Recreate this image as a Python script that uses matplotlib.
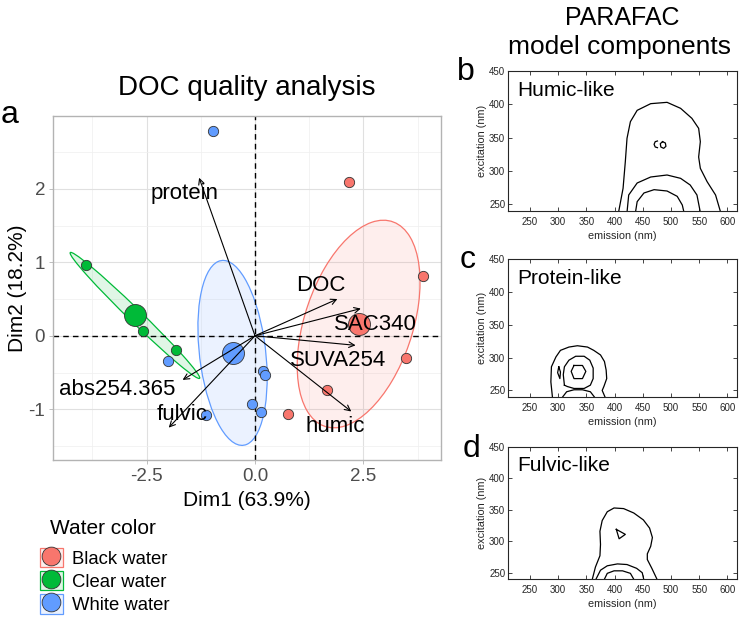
import numpy as np
import matplotlib
matplotlib.use('Agg')
import matplotlib.pyplot as plt
from matplotlib.patches import Ellipse, Patch
from matplotlib.lines import Line2D
from matplotlib.legend_handler import HandlerTuple
from matplotlib.colors import to_rgba

plt.rcParams['font.family'] = ['Liberation Sans', 'DejaVu Sans']
plt.rcParams['axes.unicode_minus'] = False

# ---- PCA individuals (Dim1, Dim2), one array pair per water colour
groups = ['Black water', 'Clear water', 'White water']
group_colors = ['#F8766D', '#00BA38', '#619CFF']
black_x = [2.17, 3.88, 3.49, 1.66, 0.75]
black_y = [2.09, 0.81, -0.30, -0.74, -1.06]
clear_x = [-3.91, -2.58, -1.82]
clear_y = [0.96, 0.07, -0.20]
white_x = [-0.97, -2.00, 0.19, 0.23, -0.08, 0.14, -1.14]
white_y = [2.78, -0.34, -0.48, -0.54, -0.93, -1.04, -1.08]

# ---- PCA variables (arrow tips) and where their labels sit
var_names = ['protein', 'DOC', 'SAC340', 'SUVA254', 'humic', 'abs254.365', 'fulvic']
var_x = [-1.29, 1.90, 2.44, 2.32, 2.22, -1.67, -1.99]
var_y = [2.15, 0.50, 0.37, -0.13, -1.03, -0.60, -1.25]
lab_x = [-1.63, 1.52, 2.77, 1.92, 1.85, -3.19, -1.69]
lab_y = [1.93, 0.68, 0.16, -0.33, -1.23, -0.73, -1.07]

# ---- PARAFAC contour lines (emission nm, excitation nm)
humic_outer_em = [407, 415, 419, 422, 428, 440, 464, 493, 517, 537, 549, 552, 549, 552, 564, 579, 588]
humic_outer_ex = [238, 274, 314, 349, 374, 391, 401, 403, 394, 379, 364, 344, 321, 304, 284, 264, 238]
humic_mid_em = [422, 425, 440, 464, 493, 517, 534, 546, 552]
humic_mid_ex = [238, 264, 282, 291, 294, 289, 279, 264, 238]
humic_inner_em = [437, 440, 452, 470, 493, 511, 520, 523]
humic_inner_ex = [238, 254, 267, 272, 270, 262, 249, 238]
humic_peak1_em = [476, 472, 470, 472, 476]
humic_peak1_ex = [345, 344, 340, 336, 335]
humic_peak2_em = [485, 481, 482, 487, 491, 490, 485]
humic_peak2_ex = [344, 341, 336, 334, 337, 342, 344]

protein_outer_em = [290, 287, 288, 296, 304, 319, 334, 352, 363, 375, 382, 385, 386, 381, 378, 384]
protein_outer_ex = [238, 263, 286, 301, 311, 316, 318, 316, 311, 304, 294, 281, 268, 256, 250, 238]
protein_mid_em = [311, 309, 311, 319, 331, 346, 356, 362, 362, 357, 346, 328, 316, 311]
protein_mid_ex = [258, 274, 286, 296, 302, 302, 296, 284, 268, 258, 253, 253, 256, 258]
protein_inner_em = [328, 343, 349, 343, 328, 323, 328]
protein_inner_ex = [288, 288, 279, 268, 268, 279, 288]
protein_side_em = [301, 304, 303, 299, 301]
protein_side_ex = [286, 278, 268, 277, 286]
protein_low_em = [306, 315, 328, 343, 357, 366]
protein_low_ex = [238, 248, 251, 251, 248, 238]

fulvic_outer_em = [360, 366, 374, 375, 374, 378, 387, 399, 416, 434, 451, 462, 467, 464, 458, 458, 466, 476]
fulvic_outer_ex = [238, 259, 277, 295, 316, 333, 347, 353, 352, 345, 334, 321, 306, 292, 280, 271, 257, 238]
fulvic_mid_em = [366, 375, 387, 405, 422, 439, 449, 452]
fulvic_mid_ex = [238, 254, 261, 264, 263, 257, 250, 238]
fulvic_inner_em = [381, 387, 399, 414, 428, 435]
fulvic_inner_ex = [238, 249, 253, 253, 249, 238]
fulvic_peak_em = [403, 419, 408, 403]
fulvic_peak_ex = [319, 311, 304, 319]

W, H = 740, 620
fig = plt.figure(figsize=(W / 100, H / 100), dpi=100)


def fx(px):
    return px / W


def fy(py):
    return 1 - py / H


# ================= panel a : PCA biplot =================
ax = fig.add_axes([fx(53), fy(460), fx(441 - 53), (460 - 116) / H])
ax.set_xlim(-4.66, 4.29)
ax.set_ylim(-1.69, 2.99)
ax.set_xticks([-2.5, 0, 2.5])
ax.set_xticklabels(['-2.5', '0.0', '2.5'])
ax.set_yticks([-1, 0, 1, 2])
ax.set_xticks([-3.75, -1.25, 1.25, 3.75], minor=True)
ax.set_yticks([-1.5, -0.5, 0.5, 1.5, 2.5], minor=True)
ax.grid(which='major', color='#E0E0E0', lw=0.8)
ax.grid(which='minor', color='#EFEFEF', lw=0.5)
ax.set_axisbelow(True)
ax.tick_params(which='major', length=2.75, width=0.6, color='#B3B3B3',
               labelcolor='#4D4D4D', labelsize=13.5, pad=3)
ax.tick_params(which='minor', length=0)
for s in ax.spines.values():
    s.set_color('#B3B3B3')
    s.set_linewidth(1.0)

ax.axhline(0, color='black', lw=1.0, ls=(0, (4, 3)), zorder=2)
ax.axvline(0, color='black', lw=1.0, ls=(0, (4, 3)), zorder=2)

# 95% confidence ellipses around the group means
chi2_95 = -2 * np.log(0.05)
all_x = [black_x, clear_x, white_x]
all_y = [black_y, clear_y, white_y]
for gx, gy, col in zip(all_x, all_y, group_colors):
    gx = np.array(gx)
    gy = np.array(gy)
    cov = np.cov(gx, gy)
    vals, vecs = np.linalg.eigh(cov)
    r = np.sqrt(chi2_95 / len(gx))
    ang = np.degrees(np.arctan2(vecs[1, 1], vecs[0, 1]))
    ell = Ellipse((gx.mean(), gy.mean()), 2 * r * np.sqrt(vals[1]), 2 * r * np.sqrt(vals[0]),
                  angle=ang, facecolor=to_rgba(col, 0.12), edgecolor=col, lw=0.9, zorder=1)
    ax.add_patch(ell)

for gx, gy, col in zip(all_x, all_y, group_colors):
    ax.scatter(gx, gy, s=55, color=col, edgecolor='#333333', lw=0.6, zorder=3)
    ax.scatter([np.mean(gx)], [np.mean(gy)], s=250, color=col, edgecolor='#333333', lw=0.6, zorder=3)

for name, vx, vy, lx, ly in zip(var_names, var_x, var_y, lab_x, lab_y):
    ax.annotate('', xy=(vx, vy), xytext=(0, 0),
                arrowprops=dict(arrowstyle='->', lw=0.8, color='black',
                                shrinkA=0, shrinkB=0, mutation_scale=10), zorder=4)
    ax.text(lx, ly, name, fontsize=16, ha='center', va='center', zorder=5)

ax.set_xlabel('Dim1 (63.9%)', fontsize=15, labelpad=4)
ax.set_ylabel('Dim2 (18.2%)', fontsize=15, labelpad=1)

fig.text(fx(247), fy(88), 'DOC quality analysis', fontsize=20, ha='center', va='center')
fig.text(fx(1), fy(123), 'a', fontsize=23, ha='left', va='baseline')

# legend: title as its own text, keys = tinted box + point
fig.text(fx(50), fy(528), 'Water color', fontsize=15, ha='left', va='center')
handles = []
for col in group_colors:
    box = Patch(facecolor=to_rgba(col, 0.12), edgecolor=col, lw=0.9)
    dot = Line2D([], [], ls='', marker='o', markersize=13.5, markerfacecolor=col,
                 markeredgecolor='#333333', markeredgewidth=0.6)
    handles.append((box, dot))
fig.legend(handles, groups, handler_map={tuple: HandlerTuple(ndivide=1, pad=0)},
           loc='upper left', bbox_to_anchor=(fx(40), fy(548)), frameon=False,
           fontsize=13.3, handlelength=1.24, handleheight=1.24, handletextpad=0.5,
           labelspacing=0.17, borderpad=0, borderaxespad=0)

# ================= panels b-d : PARAFAC components =================
panels = [
    (71, 211, 'Humic-like', [(humic_outer_em, humic_outer_ex), (humic_mid_em, humic_mid_ex),
                             (humic_inner_em, humic_inner_ex), (humic_peak1_em, humic_peak1_ex),
                             (humic_peak2_em, humic_peak2_ex)]),
    (259, 397, 'Protein-like', [(protein_outer_em, protein_outer_ex), (protein_mid_em, protein_mid_ex),
                                (protein_inner_em, protein_inner_ex), (protein_side_em, protein_side_ex),
                                (protein_low_em, protein_low_ex)]),
    (447, 579, 'Fulvic-like', [(fulvic_outer_em, fulvic_outer_ex), (fulvic_mid_em, fulvic_mid_ex),
                               (fulvic_inner_em, fulvic_inner_ex), (fulvic_peak_em, fulvic_peak_ex)]),
]
for top, bot, name, lines in panels:
    pax = fig.add_axes([fx(508), fy(bot), fx(737 - 508), (bot - top) / H])
    for em, ex in lines:
        pax.plot(em, ex, color='black', lw=0.9)
    pax.set_xlim(211, 617)
    pax.set_ylim(240, 450)
    pax.set_xticks([250, 300, 350, 400, 450, 500, 550, 600])
    pax.set_yticks([250, 300, 350, 400, 450])
    pax.tick_params(direction='in', top=True, right=True, length=3, width=0.6,
                    labelsize=7, colors='#262626')
    pax.tick_params(axis='x', pad=4.5)
    pax.tick_params(axis='y', pad=2)
    for s in pax.spines.values():
        s.set_color('#262626')
        s.set_linewidth(0.8)
    pax.set_xlabel('emission (nm)', fontsize=7.8, color='#262626', labelpad=3)
    pax.set_ylabel('excitation (nm)', fontsize=7.8, color='#262626', labelpad=1.5)
    pax.text(0.04, 0.86, name, transform=pax.transAxes, fontsize=15, ha='left', va='center')

fig.text(fx(622), fy(18), 'PARAFAC', fontsize=18, ha='center', va='center')
fig.text(fx(620), fy(47), 'model components', fontsize=19, ha='center', va='center')
fig.text(fx(457), fy(80), 'b', fontsize=23, ha='left', va='baseline')
fig.text(fx(460), fy(268), 'c', fontsize=23, ha='left', va='baseline')
fig.text(fx(463), fy(457), 'd', fontsize=23, ha='left', va='baseline')

fig.savefig('out.png', dpi=100)
